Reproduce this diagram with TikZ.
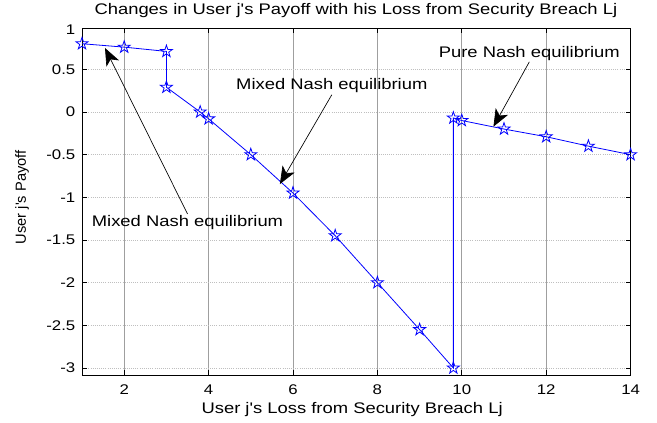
\documentclass[tikz,border=0pt]{standalone}
\usepackage{fontspec}
\setmainfont{Liberation Sans}[Ligatures=TeXOff, FakeStretch=1.2]
\newfontfamily\ylabfont{Liberation Sans}[Ligatures=TeXOff]
\usetikzlibrary{arrows.meta, shapes.geometric}

\begin{document}
\begin{tikzpicture}[
x=0.75pt, y=0.75pt,
txt/.style={font=\fontsize{11.5}{13}\selectfont, inner sep=1pt},
ticklab/.style={font=\fontsize{10.5}{12}\selectfont, inner sep=1pt},
pstar/.style={star, star points=5, star point ratio=2.6, draw=blue, line width=0.6pt, minimum size=9.5pt, inner sep=0pt},
gridv/.style={gray!75, line width=0.6pt},
gridh/.style={gray!50, line width=0.6pt, densely dotted},
arrow/.style={-{Stealth[length=13pt, width=10.5pt, inset=3.5pt]}, line width=0.5pt}
]
\useasboundingbox (0,0) rectangle (657,423);

\begin{scope}[shift={(39.8,311)}, x=31.65pt, y=64pt]
% grid
\foreach \gx in {2,4,...,12}
  \draw[gridv] (\gx,-3.083) -- (\gx,0.98);
\foreach \gy in {-3,-2.5,-2,-1.5,-1,-0.5,0,0.5}
  \draw[gridh] (1,\gy) -- (14,\gy);

% ticks
\foreach \gx in {2,4,...,14} {
  \draw[line width=0.6pt] (\gx,-3.083) -- ++(0pt,3.5pt);
  \draw[line width=0.6pt] (\gx,0.98) -- ++(0pt,-3.5pt);
  \node[ticklab] (xt\gx) at (\gx,-3.258) {\gx};
}
\foreach \gy in {-3,-2.5,-2,-1.5,-1,-0.5,0,0.5} {
  \draw[line width=0.6pt] (1,\gy) -- ++(3.5pt,0pt);
  \draw[line width=0.6pt] (14,\gy) -- ++(-3.5pt,0pt);
  \node[ticklab, anchor=east] (yt\gy) at (0.88,\gy) {\gy};
}
\node[ticklab, anchor=east] (yt1) at (0.88,0.97) {1};

% frame
\draw[line width=0.75pt] (1,-3.083) rectangle (14,0.98);
\draw[line width=1.2pt] (14,-3.083) -- (14,0.98);

% payoff curve
\foreach \px/\py [count=\i] in {1/0.8, 2/0.76, 3/0.71, 3/0.29, 3.8/0, 4/-0.08, 5/-0.5, 6/-0.95, 7/-1.45, 8/-2.0, 9/-2.55, 9.8/-3.0, 9.8/-0.07, 10/-0.1, 11/-0.2, 12/-0.29, 13/-0.4, 14/-0.5}
  \coordinate (p\i) at (\px,\py);
\draw[blue, line width=0.6pt] (p1) \foreach \i in {2,...,18} { -- (p\i) };
\foreach \i in {1,...,18}
  \node[pstar] (s\i) at (p\i) {};

% annotations
\node[txt] (mne1) at (3.50,-1.297) {Mixed Nash equilibrium};
\node[txt] (mne2) at (6.92,0.305) {Mixed Nash equilibrium};
\node[txt] (pne) at (11.60,0.69) {Pure Nash equilibrium};
\coordinate (t1) at (1.545,0.75);
\coordinate (t2) at (5.69,-0.844);
\coordinate (t3) at (10.75,-0.172);
\draw[arrow] (mne1.north) -- (t1);
\draw[arrow] (mne2.south) -- (t2);
\draw[arrow] (pne.south) -- (t3);

% labels
\node[txt] (title) at (7.49,1.184) {Changes in User j's Payoff with his Loss from Security Breach Lj};
\node[txt] (xlab) at (7.40,-3.492) {User j's Loss from Security Breach Lj};
\node[font=\ylabfont\fontsize{11}{12}\selectfont, rotate=90] (ylab) at (-0.422,-1.0) {User j's Payoff};
\end{scope}
\end{tikzpicture}
\end{document}
